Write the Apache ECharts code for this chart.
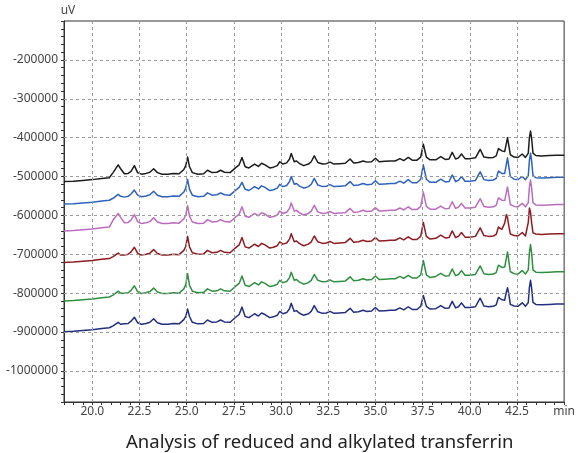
<!DOCTYPE html>
<html>
<head>
<meta charset="utf-8">
<script src="https://cdn.jsdelivr.net/npm/echarts@6/dist/echarts.min.js"></script>
<style>html,body{margin:0;padding:0;background:#fff;}#c{width:578px;height:453px;}</style>
</head>
<body>
<div id="c"></div>
<script>
const times = [18.5,19.0,19.5,20.0,20.5,20.9,21.1,21.2,21.37,21.5,21.7,21.9,22.05,22.23,22.4,22.6,22.85,23.05,23.25,23.45,23.7,24.0,24.3,24.6,24.85,24.95,25.05,25.15,25.3,25.6,25.9,26.1,26.35,26.6,26.8,27.0,27.3,27.6,27.78,27.93,28.1,28.3,28.6,28.8,28.97,29.15,29.4,29.6,29.8,29.93,30.1,30.3,30.45,30.54,30.7,30.82,30.96,31.2,31.45,31.6,31.76,31.95,32.2,32.4,32.6,32.8,33.1,33.4,33.66,33.85,34.1,34.35,34.55,34.8,35.0,35.2,35.5,35.8,36.05,36.3,36.5,36.74,36.95,37.2,37.4,37.54,37.7,37.9,38.2,38.46,38.7,38.9,39.07,39.25,39.4,39.56,39.75,40.0,40.3,40.55,40.75,41.0,41.25,
  41.4,41.52,41.7,41.85,41.94,42.0,42.06,42.15,42.35,42.55,42.78,42.95,43.1,43.16,43.22,43.28,43.35,43.5,43.8,44.2,44.6,45.0];

const black = [-513000,-512000,-510000,-508000,-505000,-503000,-490000,-487000,-470000,-480000,
  -493000,-492000,-487000,-472000,-490000,-494000,-492000,-489000,-480000,-490000,
  -494000,-494000,-492000,-493000,-482000,-472000,-450000,-475000,-490000,-494000,
  -493000,-484000,-490000,-489000,-484000,-489000,-490000,-477000,-470000,-451000,
  -475000,-478000,-468000,-474000,-466000,-470000,-478000,-476000,-472000,-462000,
  -468000,-465000,-455000,-441000,-462000,-460000,-466000,-472000,-468000,-462000,
  -447000,-464000,-468000,-467000,-463000,-468000,-467000,-466000,-455000,-465000,
  -464000,-460000,-463000,-462000,-453000,-462000,-461000,-460000,-460000,-454000,
  -459000,-451000,-458000,-458000,-450000,-417000,-450000,-457000,-457000,-449000,
  -456000,-455000,-438000,-455000,-452000,-442000,-454000,-454000,-452000,-430000,
  -450000,-452000,-451000,
  -447000,-428000,-434000,-436000,-415000,-400000,-418000,-444000,-450000,-451000,-442000,-451000,-440000,-400000,-383000,-403000,-440000,-446000,-447000,-446000,-445000,-445000];

const blue = [-571000,-570000,-568000,-566000,-563000,-561000,-556000,-553000,-546000,-551000,
  -553000,-551000,-545000,-535000,-548000,-552000,-550000,-547000,-538000,-548000,
  -552000,-552000,-550000,-551000,-540000,-530000,-508000,-533000,-548000,-552000,
  -551000,-542000,-548000,-547000,-542000,-547000,-548000,-535000,-528000,-515000,
  -533000,-536000,-526000,-532000,-524000,-528000,-536000,-534000,-530000,-520000,
  -526000,-523000,-513000,-500000,-520000,-518000,-524000,-530000,-526000,-520000,
  -505000,-522000,-526000,-525000,-521000,-526000,-525000,-524000,-513000,-523000,
  -522000,-518000,-521000,-520000,-511000,-520000,-519000,-518000,-518000,-512000,
  -517000,-508000,-516000,-516000,-507000,-470000,-507000,-515000,-515000,-507000,
  -514000,-513000,-496000,-513000,-510000,-500000,-512000,-512000,-510000,-488000,
  -508000,-510000,-509000,
  -505000,-486000,-492000,-492000,-468000,-452000,-472000,-500000,-507000,-508000,-500000,-508000,-498000,-458000,-440000,-461000,-498000,-503000,-504000,-503000,-502000,-502000];

const magenta = [-640000,-639000,-637000,-635000,-632000,-630000,-612000,-610000,-595000,-605000,
  -619000,-618000,-612000,-598000,-616000,-621000,-619000,-616000,-606000,-617000,
  -621000,-621000,-619000,-620000,-609000,-599000,-575000,-602000,-617000,-621000,
  -620000,-611000,-617000,-616000,-611000,-616000,-617000,-604000,-597000,-578000,
  -602000,-605000,-595000,-601000,-593000,-597000,-605000,-603000,-599000,-589000,
  -595000,-592000,-582000,-568000,-589000,-587000,-593000,-599000,-595000,-589000,
  -574000,-591000,-595000,-594000,-590000,-595000,-594000,-593000,-582000,-592000,
  -591000,-587000,-590000,-589000,-580000,-589000,-588000,-587000,-587000,-581000,
  -586000,-578000,-585000,-585000,-577000,-540000,-577000,-584000,-584000,-576000,
  -583000,-582000,-565000,-582000,-579000,-569000,-581000,-581000,-579000,-557000,
  -577000,-579000,-578000,
  -574000,-555000,-561000,-562000,-541000,-527000,-545000,-572000,-577000,-578000,-569000,-578000,-567000,-527000,-509000,-530000,-567000,-573000,-574000,-573000,-572000,-572000];

const red = [-721000,-720000,-718000,-716000,-713000,-711000,-706000,-705000,-697000,-702000,
  -702000,-700000,-694000,-682000,-697000,-702000,-700000,-697000,-688000,-698000,
  -702000,-702000,-700000,-701000,-690000,-680000,-654000,-681000,-696000,-700000,
  -699000,-690000,-696000,-695000,-690000,-695000,-696000,-683000,-676000,-657000,
  -681000,-684000,-674000,-680000,-672000,-676000,-684000,-682000,-678000,-668000,
  -674000,-671000,-661000,-647000,-668000,-666000,-672000,-678000,-674000,-668000,
  -653000,-668000,-672000,-671000,-667000,-672000,-671000,-670000,-659000,-669000,
  -668000,-664000,-667000,-666000,-657000,-666000,-665000,-664000,-664000,-658000,
  -663000,-655000,-662000,-662000,-654000,-618000,-654000,-661000,-659000,-651000,
  -658000,-657000,-640000,-657000,-654000,-644000,-656000,-656000,-654000,-632000,
  -652000,-654000,-653000,
  -649000,-630000,-636000,-620000,-598000,-606000,-625000,-648000,-652000,-653000,-644000,-653000,-618000,-581000,-592000,-620000,-645000,-648000,-649000,-648000,-647000,-647000];

const green = [-820000,-819000,-817000,-815000,-812000,-810000,-805000,-803000,-795000,-800000,
  -800000,-799000,-793000,-781000,-796000,-801000,-799000,-796000,-787000,-797000,
  -801000,-801000,-799000,-800000,-789000,-778000,-750000,-780000,-795000,-799000,
  -798000,-789000,-795000,-794000,-789000,-794000,-795000,-782000,-775000,-756000,
  -780000,-783000,-773000,-779000,-771000,-775000,-783000,-781000,-777000,-767000,
  -773000,-770000,-760000,-746000,-767000,-765000,-771000,-777000,-773000,-767000,
  -752000,-767000,-771000,-770000,-766000,-771000,-770000,-769000,-758000,-768000,
  -767000,-763000,-766000,-765000,-756000,-765000,-764000,-763000,-763000,-757000,
  -762000,-754000,-761000,-761000,-753000,-716000,-753000,-760000,-757000,-749000,
  -756000,-755000,-738000,-755000,-752000,-742000,-754000,-754000,-752000,-730000,
  -750000,-752000,-751000,
  -747000,-728000,-734000,-733000,-710000,-694000,-714000,-745000,-750000,-751000,-742000,-751000,-740000,-695000,-675000,-698000,-740000,-746000,-747000,-746000,-745000,-745000];

const navy = [-899000,-898000,-896000,-894000,-891000,-889000,-884000,-882000,-875000,-880000,
  -879000,-878000,-872000,-862000,-876000,-880000,-878000,-875000,-866000,-876000,
  -880000,-880000,-878000,-879000,-868000,-860000,-841000,-860000,-875000,-879000,
  -878000,-869000,-875000,-874000,-869000,-874000,-875000,-862000,-855000,-836000,
  -860000,-863000,-853000,-859000,-851000,-855000,-863000,-861000,-857000,-847000,
  -853000,-850000,-840000,-826000,-847000,-845000,-851000,-857000,-853000,-847000,
  -832000,-848000,-852000,-851000,-847000,-852000,-851000,-850000,-839000,-849000,
  -848000,-844000,-847000,-846000,-837000,-846000,-845000,-844000,-844000,-838000,
  -843000,-835000,-842000,-842000,-834000,-806000,-834000,-841000,-840000,-832000,
  -839000,-838000,-821000,-838000,-835000,-825000,-837000,-837000,-835000,-813000,
  -833000,-835000,-834000,
  -830000,-811000,-817000,-818000,-797000,-786000,-800000,-829000,-833000,-834000,-825000,-834000,-824000,-785000,-767000,-788000,-824000,-829000,-830000,-829000,-828000,-828000];

const xTicks = [20.0, 22.5, 25.0, 27.5, 30.0, 32.5, 35.0, 37.5, 40.0, 42.5];
const yTicks = [-200000, -300000, -400000, -500000, -600000, -700000, -800000, -900000, -1000000];
const titleText = 'Analysis of reduced and alkylated transferrin';
const xUnit = 'min';
const yUnit = 'uV';

const seriesDefs = [
  {name: 'Trace 1', values: black, color: '#1c1c1c'},
  {name: 'Trace 2', values: blue, color: '#2e62bf'},
  {name: 'Trace 3', values: magenta, color: '#bb6cbf'},
  {name: 'Trace 4', values: red, color: '#8e1c22'},
  {name: 'Trace 5', values: green, color: '#2f8f40'},
  {name: 'Trace 6', values: navy, color: '#232e80'}
];

const chart = echarts.init(document.getElementById('c'), null, {renderer: 'canvas'});
const FONT = '"Noto Sans", "DejaVu Sans", sans-serif';
const gridLineStyle = {color: '#9a9a9a', type: [3, 3], width: 1};

const series = [{
  type: 'line', data: [], z: 1, silent: true,
  markLine: {
    silent: true, symbol: 'none', animation: false,
    label: {show: false},
    lineStyle: gridLineStyle,
    emphasis: {disabled: true},
    data: xTicks.map(v => ({xAxis: v})).concat(yTicks.map(v => ({yAxis: v})))
  }
}].concat(seriesDefs.map(s => ({
  name: s.name, type: 'line', z: 3,
  data: times.map((t, i) => [t, s.values[i]]),
  showSymbol: false, symbol: 'none',
  lineStyle: {color: s.color, width: 1.5, join: 'round'},
  itemStyle: {color: s.color},
  animation: false
})));

chart.setOption({
  animation: false,
  backgroundColor: '#fff',
  title: {
    text: titleText, left: 121, top: 428,
    textStyle: {fontFamily: FONT, fontSize: 18.5, fontWeight: 'normal', color: '#222'}
  },
  grid: {left: 64, right: 6, top: 21, bottom: 51, show: true, borderColor: '#333', borderWidth: 1, containLabel: false},
  xAxis: {
    type: 'value', min: 18.5, max: 45, interval: 0.5,
    axisLine: {show: true, lineStyle: {color: '#333', width: 1}},
    axisTick: {show: true, inside: false, length: 3, lineStyle: {color: '#333'}},
    splitLine: {show: false},
    axisLabel: {
      margin: 4, color: '#444', fontFamily: FONT, fontSize: 12,
      showMinLabel: true, showMaxLabel: true,
      formatter: function (v) {
        if (Math.abs(v - 45) < 1e-6) return xUnit;
        const k = v / 2.5;
        return Math.abs(k - Math.round(k)) < 1e-6 ? v.toFixed(1) : '';
      }
    }
  },
  yAxis: {
    type: 'value', min: -1080000, max: -100000, interval: 20000,
    name: yUnit, nameLocation: 'end', nameGap: 4,
    nameTextStyle: {color: '#444', fontFamily: FONT, fontSize: 12, padding: [0, 0, 0, 8]},
    axisLine: {show: true, lineStyle: {color: '#333', width: 1}},
    axisTick: {show: true, inside: false, length: 3, lineStyle: {color: '#333'}},
    splitLine: {show: false},
    axisLabel: {
      margin: 6, color: '#444', fontFamily: FONT, fontSize: 12,
      formatter: function (v) {
        const r = Math.round(v);
        return (r % 100000 === 0 && r !== -100000) ? String(r) : '';
      }
    }
  },
  series: series
});
</script>
</body>
</html>
